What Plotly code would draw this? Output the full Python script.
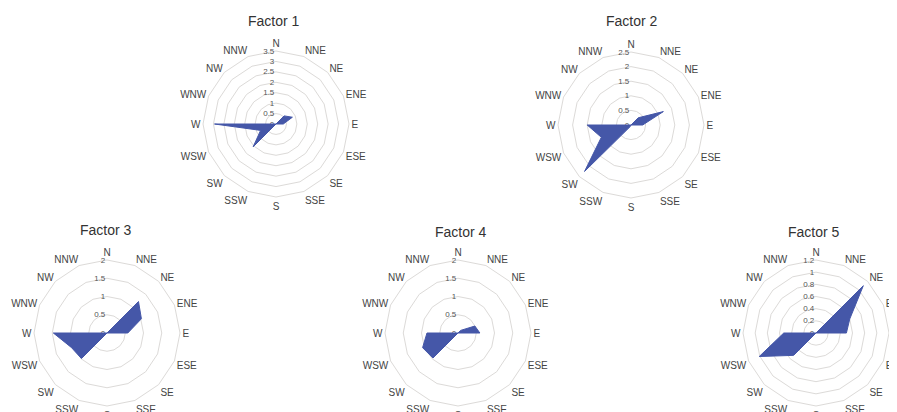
import plotly.graph_objects as go

directions = ["N", "NNE", "NE", "ENE", "E", "ESE", "SE", "SSE",
              "S", "SSW", "SW", "WSW", "W", "WNW", "NW", "NNW"]

factor1 = [0, 0, 0.55, 0.85, 0.35, 0, 0, 0, 0, 0, 1.55, 0.8, 2.95, 0, 0, 0]
factor2 = [0, 0, 0.35, 1.2, 0.4, 0, 0, 0, 0, 0.05, 2.25, 1.1, 1.5, 0, 0, 0]
factor3 = [0, 0, 1.22, 1.02, 0.57, 0, 0, 0, 0, 0, 0.99, 1.05, 1.47, 0, 0, 0]
factor4 = [0, 0, 0.1, 0.5, 0.6, 0, 0, 0, 0, 0, 0.97, 1.05, 0.85, 0, 0, 0]
factor5 = [0, 0, 1.1, 0.6, 0.5, 0, 0, 0, 0, 0, 0.52, 1.01, 0.53, 0, 0, 0]

titles = ["Factor 1", "Factor 2", "Factor 3", "Factor 4", "Factor 5"]
series = [factor1, factor2, factor3, factor4, factor5]
ranges = [3.5, 2.5, 2, 2, 1.2]
dticks = [0.5, 0.5, 0.5, 0.5, 0.2]

# page body has an 8px margin; figure drawn from (8, 8) to the window edge
OFF = 8
W, H = 897 - OFF, 412 - OFF
centers = [(276, 124), (631, 125), (107, 333), (458, 333), (816, 333)]
R = 73
title_pos = [(274, 21), (632, 21), (106, 230), (461, 232), (814, 232)]

FILL = "#4557A8"

fig = go.Figure()
layout = {}
annotations = []
for i, (vals, ttl) in enumerate(zip(series, titles)):
    key = "polar" if i == 0 else f"polar{i+1}"
    fig.add_trace(go.Scatterpolar(
        r=vals + vals[:1], theta=directions + directions[:1],
        mode="lines", fill="toself", fillcolor=FILL,
        line=dict(color=FILL, width=1), subplot=key, showlegend=False,
        hoverinfo="skip"))
    cx, cy = centers[i]
    cx -= OFF
    cy -= OFF
    layout[key] = dict(
        domain=dict(x=[(cx - R) / W, (cx + R) / W],
                    y=[(H - cy - R) / H, (H - cy + R) / H]),
        gridshape="linear",
        bgcolor="white",
        radialaxis=dict(range=[0, ranges[i]], dtick=dticks[i], angle=90,
                        tickangle=90, side="counterclockwise",
                        showline=False, ticks="",
                        gridcolor="#dcdad8", gridwidth=1,
                        tickfont=dict(family="Liberation Sans", size=8, color="#555"),
                        layer="below traces"),
        angularaxis=dict(categoryarray=directions, categoryorder="array",
                         rotation=90, direction="clockwise",
                         showgrid=False, showline=True, linecolor="#dcdad8",
                         ticks="",
                         tickfont=dict(family="Liberation Sans", size=10, color="#444"),
                         layer="below traces"),
    )
    tx, ty = title_pos[i]
    tx -= OFF
    ty -= OFF
    annotations.append(dict(text=ttl, x=tx / W, y=1 - ty / H, xref="paper", yref="paper",
                            showarrow=False, xanchor="center", yanchor="middle",
                            font=dict(family="Liberation Sans", size=14, color="#333")))

fig.update_layout(width=W, height=H, margin=dict(l=0, r=0, t=0, b=0),
                  paper_bgcolor="white", plot_bgcolor="white",
                  annotations=annotations, **layout)
fig.write_html("out.html")
